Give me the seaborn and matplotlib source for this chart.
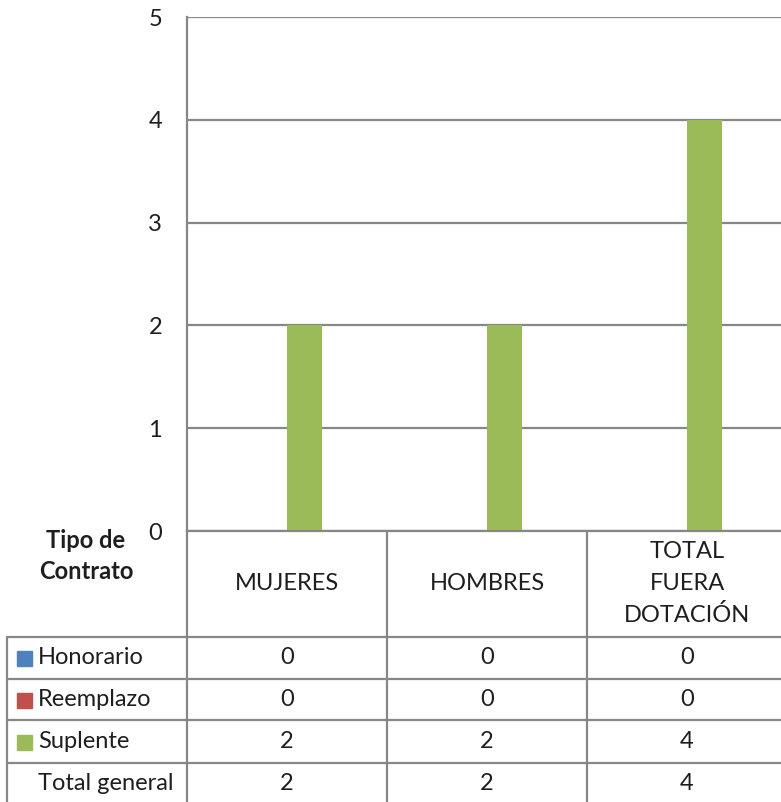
import matplotlib.pyplot as plt
import matplotlib.patches as mpatches
import seaborn as sns
import pandas as pd

# datos del grafico
categorias = ['MUJERES', 'HOMBRES', 'TOTAL\nFUERA\nDOTACIÓN']
series = ['Honorario', 'Reemplazo', 'Suplente', 'Total general']
honorario = [0, 0, 0]
reemplazo = [0, 0, 0]
suplente = [2, 2, 4]
total_general = [2, 2, 4]
colores = ['#4F81BD', '#C0504D', '#9BBB59', '#FFFFFF']

valores = [honorario, reemplazo, suplente, total_general]
df = pd.DataFrame({
    'categoria': [c for _ in series for c in categorias],
    'serie': [s for s in series for _ in categorias],
    'valor': [v for fila in valores for v in fila],
})

sns.set_style('white')
plt.rcParams['font.family'] = ['Lato', 'DejaVu Sans']
texto = '#1e1e1e'
gris = '#878787'
fs = 17

W, H = 781, 802
fig = plt.figure(figsize=(W / 100, H / 100), dpi=100)

# area del grafico (pixeles)
ax = fig.add_axes([187 / W, (H - 531) / H, 600 / W, 514 / H])
sns.barplot(data=df, x='categoria', y='valor', hue='serie', order=categorias,
            hue_order=series, palette=colores, saturation=1, width=0.7,
            linewidth=0, errorbar=None, legend=False, ax=ax)

# Total general no lleva relleno en el grafico
for cont, s in zip(ax.containers, series):
    if s == 'Total general':
        for p in cont:
            p.set_visible(False)

ax.set_xlim(-0.5, 2.5)
ax.set_ylim(0, 5)
ax.set_yticks(range(6))
ax.set_xticks([])
ax.set_xlabel('')
ax.set_ylabel('')
ax.yaxis.grid(True, color=gris, linewidth=1.6)
ax.set_axisbelow(True)
ax.tick_params(axis='y', length=0, pad=18, labelsize=fs, labelcolor=texto)
for lado in ['top', 'right']:
    ax.spines[lado].set_visible(False)
for lado in ['left', 'bottom']:
    ax.spines[lado].set_color(gris)
    ax.spines[lado].set_linewidth(1.6)

# tabla de datos debajo
tab = fig.add_axes([0, 0, 1, 1])
tab.set_xlim(0, W)
tab.set_ylim(H, 0)
tab.axis('off')

col_x = [187, 387, 587, 787]
filas_y = [637, 679, 720, 763, 805]
lw = 1.6

for y in filas_y[:-1]:
    tab.plot([7, W], [y, y], color=gris, lw=lw, solid_capstyle='butt')
tab.plot([7, 7], [637, H], color=gris, lw=lw)
for x in col_x[:-1]:
    tab.plot([x, x], [531, H], color=gris, lw=lw)

tab.text(86, 556, 'Tipo de\nContrato', ha='center', va='center', fontsize=fs,
         fontweight='bold', color=texto, linespacing=1.45)

for i, cat in enumerate(categorias):
    cx = (col_x[i] + col_x[i + 1]) / 2
    tab.text(cx, 584, cat, ha='center', va='center', fontsize=fs,
             color=texto, linespacing=1.6)

for j, s in enumerate(series):
    yc = (filas_y[j] + filas_y[j + 1]) / 2
    if s != 'Total general':
        tab.add_patch(mpatches.Rectangle((17, yc - 7), 15, 15, color=colores[j]))
    tab.text(38, yc, s, ha='left', va='center', fontsize=fs, color=texto)
    for i in range(len(categorias)):
        cx = (col_x[i] + col_x[i + 1]) / 2
        tab.text(cx, yc, str(valores[j][i]), ha='center', va='center',
                 fontsize=fs, color=texto)

fig.savefig('out.png', dpi=100)
